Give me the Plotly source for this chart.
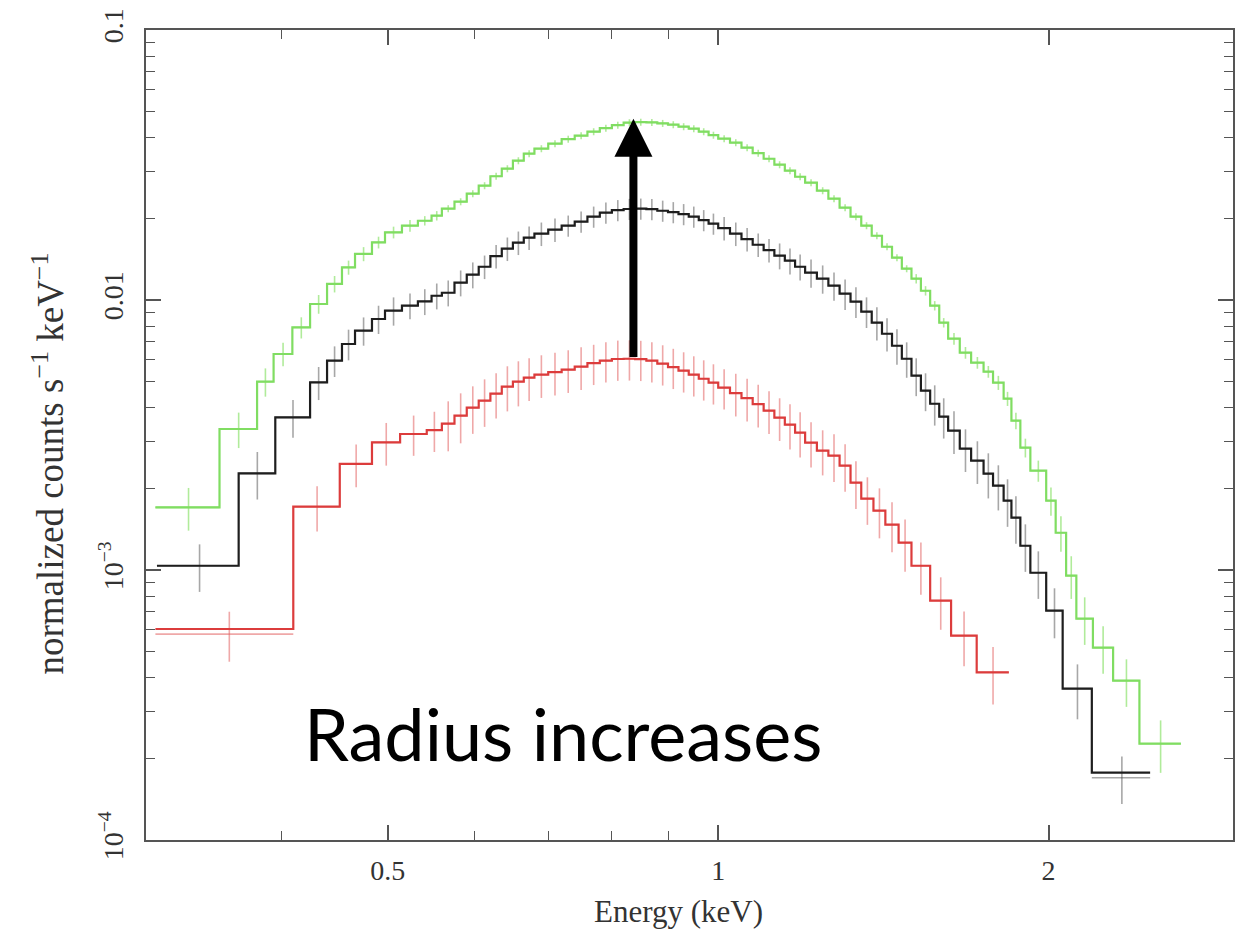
import math
import plotly.graph_objects as go

# ---------------- data (energies in keV, normalized counts s^-1 keV^-1) ----------------
FINE_EDGES = [0.56, 0.575, 0.59, 0.605, 0.62, 0.635, 0.65, 0.665, 0.68, 0.70, 0.72, 0.74,
              0.76, 0.78, 0.80, 0.82, 0.84, 0.86, 0.88, 0.90, 0.92, 0.94, 0.96, 0.98, 1.00,
              1.025, 1.05, 1.075, 1.10, 1.125, 1.15, 1.175, 1.20, 1.23, 1.26, 1.29, 1.32]
MID_EDGES = [1.35, 1.38, 1.41, 1.44, 1.47, 1.50, 1.53, 1.56, 1.59, 1.62, 1.66, 1.70, 1.745,
             1.78, 1.82, 1.85, 1.885, 1.925, 1.99]

green_edges = ([0.307, 0.3512, 0.380, 0.3934, 0.4092, 0.4247, 0.4401, 0.4541, 0.4667, 0.4836,
                0.497, 0.515, 0.5325, 0.548] + FINE_EDGES + MID_EDGES +
               [2.03, 2.075, 2.12, 2.195, 2.29, 2.42, 2.64])
green_model = [1.706e-3, 3.328e-3, 4.983e-3, 6.31e-3, 7.915e-3, 9.665e-3, 0.01147, 0.01320,
               0.01481, 0.01634, 0.01780, 0.01885, 0.01966, 0.02052,
               0.02179, 0.02312, 0.02476, 0.02651, 0.02873, 0.03064, 0.03280, 0.03483, 0.03635,
               0.03793, 0.03942, 0.04060, 0.04201, 0.04329, 0.04441, 0.04537, 0.04556, 0.04549,
               0.04510, 0.04460, 0.04385, 0.04310, 0.04201, 0.04078, 0.03958, 0.03826, 0.03666,
               0.03497, 0.03336, 0.03170, 0.03012, 0.02861, 0.02719, 0.02540, 0.02372, 0.02197,
               0.02035, 0.01885, 0.01730, 0.01575, 0.01435, 0.01306, 0.01199, 0.01082, 9.526e-3,
               8.24e-3, 7.19e-3, 6.38e-3, 5.858e-3, 5.425e-3, 4.94e-3, 4.31e-3, 3.573e-3,
               2.838e-3, 2.332e-3,
               1.806e-3, 1.374e-3, 9.53e-4, 6.60e-4, 5.155e-4, 3.89e-4, 2.273e-4]
green_rel_err = [0.18, 0.15, 0.12, 0.10, 0.09, 0.08, 0.07, 0.06, 0.06, 0.05, 0.05, 0.05, 0.04, 0.04,
                 0.03, 0.03, 0.03, 0.03, 0.03, 0.03, 0.03, 0.03, 0.03, 0.03, 0.03, 0.03,
                 0.03, 0.03, 0.03, 0.03, 0.03, 0.03, 0.03, 0.03, 0.03, 0.03, 0.03, 0.03,
                 0.03, 0.03, 0.03, 0.03, 0.03, 0.03, 0.03, 0.03, 0.03, 0.03, 0.03, 0.03,
                 0.03, 0.03, 0.03, 0.03, 0.03, 0.03, 0.04, 0.04, 0.04, 0.04, 0.05, 0.05,
                 0.05, 0.05, 0.06, 0.06, 0.07, 0.08, 0.09,
                 0.12, 0.15, 0.18, 0.20, 0.20, 0.20, 0.22]

black_edges = ([0.308, 0.3656, 0.3948, 0.4247, 0.4401, 0.4541, 0.4667, 0.4836, 0.497, 0.515,
                0.5325, 0.548] + FINE_EDGES + MID_EDGES + [2.06, 2.19, 2.475])
black_model = [1.037e-3, 2.28e-3, 3.675e-3, 4.953e-3, 5.959e-3, 6.871e-3, 7.696e-3, 8.503e-3,
               9.13e-3, 9.526e-3, 9.88e-3, 0.01037,
               0.01064, 0.01159, 0.01241, 0.01328, 0.01453, 0.01549, 0.01630, 0.01701, 0.01760,
               0.01821, 0.01885, 0.01950, 0.02035, 0.02105, 0.02151, 0.02173, 0.02179, 0.02170,
               0.02141, 0.02114, 0.02079, 0.02035, 0.01975, 0.01917, 0.01845, 0.01760, 0.01680,
               0.01602, 0.01529, 0.01459, 0.01398, 0.01328, 0.01262, 0.01199, 0.01130, 0.01055,
               9.86e-3, 9.05e-3, 8.24e-3, 7.50e-3, 6.77e-3, 6.06e-3, 5.243e-3, 4.613e-3,
               4.128e-3, 3.696e-3, 3.28e-3, 2.813e-3, 2.54e-3, 2.273e-3, 2.052e-3, 1.806e-3,
               1.562e-3, 1.230e-3, 9.77e-4,
               7.07e-4, 3.635e-4, 1.775e-4]
black_rel_err = [0.20, 0.20, 0.16, 0.14, 0.13, 0.13, 0.12, 0.12, 0.12, 0.11, 0.11, 0.11,
                 0.11, 0.11, 0.11, 0.10, 0.10, 0.10, 0.10, 0.10, 0.10, 0.10, 0.09, 0.09,
                 0.09, 0.09, 0.09, 0.09, 0.09, 0.09, 0.09, 0.09, 0.09, 0.09, 0.09, 0.09,
                 0.10, 0.10, 0.10, 0.10, 0.10, 0.11, 0.11, 0.11, 0.12, 0.12, 0.12, 0.13,
                 0.13, 0.13, 0.14, 0.14, 0.15, 0.15, 0.16, 0.16, 0.17, 0.17, 0.18, 0.18,
                 0.18, 0.19, 0.19, 0.20, 0.20, 0.20, 0.20,
                 0.21, 0.23, 0.20]

red_edges = ([0.307, 0.410, 0.452, 0.4836, 0.513, 0.5425] + FINE_EDGES +
             [1.35, 1.385, 1.42, 1.46, 1.50, 1.56, 1.63, 1.72, 1.84])
red_model = [6.045e-4, 1.716e-3, 2.47e-3, 2.97e-3, 3.19e-3, 3.295e-3,
             3.483e-3, 3.728e-3, 3.991e-3, 4.236e-3, 4.498e-3, 4.775e-3, 4.983e-3, 5.156e-3,
             5.289e-3, 5.404e-3, 5.52e-3, 5.662e-3, 5.833e-3, 5.959e-3, 6.046e-3, 6.06e-3,
             6.035e-3, 5.959e-3, 5.809e-3, 5.637e-3, 5.472e-3, 5.289e-3, 5.11e-3, 4.94e-3,
             4.734e-3, 4.517e-3, 4.328e-3, 4.113e-3, 3.89e-3, 3.665e-3, 3.452e-3, 3.225e-3,
             2.961e-3, 2.766e-3, 2.65e-3, 2.434e-3,
             2.105e-3, 1.837e-3, 1.658e-3, 1.472e-3, 1.262e-3, 1.037e-3, 7.70e-4, 5.71e-4, 4.18e-4]
red_rel_err = [0.21, 0.19, 0.18, 0.18, 0.17, 0.17,
               0.21, 0.21, 0.20, 0.20, 0.19, 0.19, 0.19, 0.18, 0.18, 0.18, 0.18, 0.18,
               0.17, 0.17, 0.17, 0.17, 0.17, 0.17, 0.17, 0.17, 0.17, 0.17, 0.17, 0.17,
               0.17, 0.18, 0.18, 0.18, 0.18, 0.18, 0.19, 0.19, 0.19, 0.19, 0.20, 0.20,
               0.20, 0.20, 0.21, 0.21, 0.22, 0.22, 0.22, 0.23, 0.24]

# measured data points equal the model except where the cross visibly departs from it
green_data = list(green_model)
black_data = list(black_model)
black_data[-1] = 1.70e-4
red_data = list(red_model)
red_data[0] = 5.79e-4

# axis ticks / labels
X_RANGE = (0.301, 2.945)
Y_RANGE = (1e-4, 0.1)
x_tickvals = [0.5, 1, 2]
x_ticktext = ["0.5", "1", "2"]
x_minor = [0.4, 0.6, 0.7, 0.8, 0.9]
y_tickvals = [1e-4, 1e-3, 0.01, 0.1]
y_ticktext = ["10<sup>\u22124</sup>", "10<sup>\u22123</sup>", "0.01", "0.1"]
y_minor = [m * 10.0 ** e for e in (-4, -3, -2) for m in range(2, 10)]

# arrow (from red peak to green peak)
ARROW_E = 0.837
ARROW_FROM = 0.00607
ARROW_TO = 0.0469

for e, v, r in [(green_edges, green_model, green_rel_err),
                (black_edges, black_model, black_rel_err),
                (red_edges, red_model, red_rel_err)]:
    assert len(e) == len(v) + 1 and len(v) == len(r), (len(e), len(v), len(r))

# ---------------- figure ----------------
fig = go.Figure()

series = [
    ("green", green_edges, green_model, green_data, green_rel_err, "#80dd62", "rgba(150,228,120,0.75)"),
    ("red", red_edges, red_model, red_data, red_rel_err, "#dc3c3c", "rgba(228,110,110,0.6)"),
    ("black", black_edges, black_model, black_data, black_rel_err, "#1e1e1e", "rgba(95,95,95,0.55)"),
]

for name, edges, model, data, rel, lcol, ecol in series:
    centers = [(edges[i] + edges[i + 1]) / 2 for i in range(len(model))]
    halfw = [(edges[i + 1] - edges[i]) / 2 for i in range(len(model))]
    err = [d * r for d, r in zip(data, rel)]
    fig.add_trace(go.Scatter(
        x=centers, y=data, mode="markers",
        marker=dict(size=1, color=ecol),
        error_x=dict(type="data", array=halfw, symmetric=True, color=ecol, thickness=1.6, width=0),
        error_y=dict(type="data", array=err, arrayminus=err, symmetric=False,
                     color=ecol, thickness=1.6, width=0),
        showlegend=False, hoverinfo="skip", name=name + " data"))
    fig.add_trace(go.Scatter(
        x=edges, y=model + [model[-1]], mode="lines",
        line=dict(shape="hv", color=lcol, width=2.2),
        showlegend=False, name=name + " model"))

axis_font = dict(family="Liberation Serif", size=28, color="#333333")
common = dict(showline=True, linecolor="#555555", linewidth=2, mirror="allticks",
              ticks="inside", ticklen=15, tickwidth=1.5, tickcolor="#555555",
              showgrid=False, zeroline=False, tickfont=axis_font)

fig.update_xaxes(type="log", range=[math.log10(X_RANGE[0]), math.log10(X_RANGE[1])],
                 tickmode="array", tickvals=x_tickvals, ticktext=x_ticktext,
                 ticklabelstandoff=4,
                 minor=dict(tickmode="array", tickvals=x_minor, ticks="inside", ticklen=9,
                            tickwidth=1.3, tickcolor="#555555"),
                 **common)
fig.update_yaxes(type="log", range=[math.log10(Y_RANGE[0]), math.log10(Y_RANGE[1])],
                 tickmode="array", tickvals=y_tickvals, ticktext=y_ticktext, tickangle=-90,
                 ticklabelstandoff=10,
                 minor=dict(tickmode="array", tickvals=y_minor, ticks="inside", ticklen=9,
                            tickwidth=1.3, tickcolor="#555555"),
                 **common)

fig.add_annotation(x=math.log10(ARROW_E), y=math.log10(ARROW_TO),
                   ax=math.log10(ARROW_E), ay=math.log10(ARROW_FROM),
                   xref="x", yref="y", axref="x", ayref="y",
                   text="", showarrow=True, arrowhead=2, arrowsize=0.95, arrowwidth=8,
                   arrowcolor="black")

fig.add_annotation(text="Radius increases", xref="paper", yref="paper", x=0.384, y=0.132,
                   xanchor="center", yanchor="middle", showarrow=False,
                   font=dict(family="Lato", size=72, color="black"))

fig.add_annotation(text="Energy (keV)", xref="paper", yref="paper", x=0.49, y=-0.088,
                   xanchor="center", yanchor="middle", showarrow=False,
                   font=dict(family="Liberation Serif", size=31, color="#333333"))

fig.add_annotation(text="normalized counts s<sup>\u22121</sup> keV<sup>\u22121</sup>",
                   xref="paper", yref="paper", x=-0.09, y=0.465, textangle=-90,
                   xanchor="center", yanchor="middle", showarrow=False,
                   font=dict(family="Liberation Serif", size=37, color="#333333"))

fig.update_layout(width=1243, height=937, margin=dict(l=146, r=8, t=29, b=97),
                  plot_bgcolor="white", paper_bgcolor="white", showlegend=False)

fig.write_html("out.html")
